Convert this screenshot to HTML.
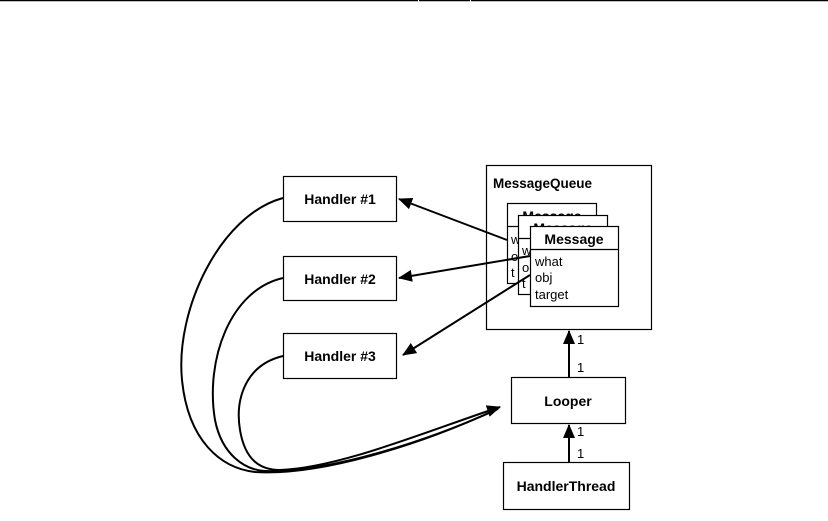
<!DOCTYPE html>
<html><head><style>
body{margin:0;background:#fff;}
svg{display:block;font-family:"Liberation Sans",Arial,sans-serif;}
</style></head><body>
<svg width="828" height="521" viewBox="0 0 828 521">
<defs>
<marker id="b" markerWidth="14" markerHeight="12" refX="13" refY="6" orient="auto" markerUnits="userSpaceOnUse"><path d="M0,0 L14,6 L0,12 z" fill="#000"/></marker></defs>
<line x1="0" y1="0.5" x2="418" y2="0.5" stroke="#000" stroke-width="1.5"/>
<line x1="419" y1="0.5" x2="470" y2="0.5" stroke="#000" stroke-width="1.5"/>
<line x1="471" y1="0.5" x2="828" y2="0.5" stroke="#000" stroke-width="1.5"/>
<g stroke="#000" stroke-width="1.2" fill="#fff">
<rect x="283.5" y="176.5" width="113" height="45"/>
<rect x="283.5" y="256.5" width="113" height="44"/>
<rect x="283.5" y="333.5" width="113" height="45"/>
<rect x="486.5" y="165.5" width="165" height="164"/>
<rect x="511.5" y="377.5" width="114" height="46"/>
<rect x="503.5" y="462.5" width="126" height="47"/>
</g>
<g font-size="14" font-weight="bold" text-anchor="middle">
<text x="340" y="204">Handler #1</text>
<text x="340" y="284">Handler #2</text>
<text x="340" y="361">Handler #3</text>
<text x="568" y="406">Looper</text>
<text x="566" y="491">HandlerThread</text>
<text x="493" y="188" text-anchor="start" font-size="13.5">MessageQueue</text>
</g>
<g stroke="#000" stroke-width="1.2">
<rect x="507.5" y="203.5" width="89" height="80" fill="#fff"/>
<line x1="507" y1="226.5" x2="596" y2="226.5"/>
</g>
<text x="552" y="221" font-size="14" font-weight="bold" text-anchor="middle">Message</text>
<text x="511" y="244" font-size="13">w</text><text x="511" y="261" font-size="13">o</text><text x="511" y="277" font-size="13">t</text>
<g stroke="#000" stroke-width="1.2">
<rect x="518.5" y="215.5" width="89" height="79" fill="#fff"/>
<line x1="518" y1="238.5" x2="607" y2="238.5"/>
</g>
<text x="563" y="233" font-size="14" font-weight="bold" text-anchor="middle">Message</text>
<text x="522" y="255" font-size="13">w</text><text x="522" y="272" font-size="13">o</text><text x="522" y="288" font-size="13">t</text>
<g stroke="#000" stroke-width="1.2">
<rect x="530.5" y="226.5" width="88" height="80" fill="#fff"/>
<line x1="530" y1="249.5" x2="618" y2="249.5"/>
</g>
<text x="574" y="244" font-size="14" font-weight="bold" text-anchor="middle">Message</text>
<g font-size="13"><text x="535" y="266">what</text><text x="535" y="282">obj</text><text x="535" y="299">target</text>
<text x="577" y="344">1</text><text x="577" y="372">1</text><text x="577" y="436">1</text><text x="577" y="458">1</text></g>
<g stroke="#000" stroke-width="2" fill="none">
<line x1="507" y1="240" x2="399" y2="199" marker-end="url(#b)"/>
<line x1="530" y1="256" x2="399" y2="278" marker-end="url(#b)"/>
<line x1="530" y1="275" x2="403" y2="355" marker-end="url(#b)"/>
<line x1="569" y1="377" x2="569" y2="331" marker-end="url(#b)"/>
<line x1="569" y1="462" x2="569" y2="425" marker-end="url(#b)"/>
<path d="M283,198 C220,215 175,310 182,380 C188,440 220,468 255,472 C320,476 420,445 495,410"/>
<path d="M283,278 C230,290 205,360 215,420 C222,455 245,470 265,471 C330,473 430,440 498,409"/>
<path d="M283,356 C245,365 235,400 240,430 C245,460 260,470 280,470 C340,468 430,430 500,407" marker-end="url(#b)"/>
</g>
</svg>
</body></html>
